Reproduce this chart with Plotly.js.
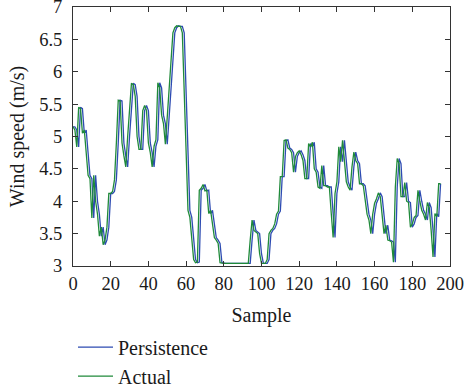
<!DOCTYPE html>
<html>
<head>
<meta charset="utf-8">
<script src="https://cdn.plot.ly/plotly-3.0.1.min.js"></script>
<style>html,body{margin:0;padding:0;background:#fff;}#chart{width:465px;height:386px;}</style>
</head>
<body>
<div id="chart"></div>
<script>
const samples = [];
const actual = [
5.15,5.1,4.84,5.45,5.43,5.05,5.1,4.75,4.4,4.35,
3.74,4.4,4.0,3.8,3.46,3.6,3.33,3.4,3.6,4.12,
4.12,4.15,4.33,4.9,5.56,5.55,4.9,4.7,4.53,5.0,
5.45,5.82,5.8,5.62,5.0,4.8,4.8,5.4,5.48,5.4,
4.9,4.75,4.53,4.85,4.95,5.83,5.75,5.33,5.2,4.88,
5.3,5.7,6.18,6.6,6.68,6.71,6.7,6.7,6.6,5.6,
4.6,3.86,3.75,3.35,3.1,3.05,3.06,4.17,4.2,4.26,
4.16,4.17,3.81,3.86,3.6,3.44,3.4,3.35,3.05,3.04,
3.04,3.04,3.04,3.04,3.04,3.04,3.04,3.04,3.04,3.04,
3.04,3.04,3.04,3.04,3.4,3.71,3.55,3.52,3.5,3.19,
3.04,3.04,3.04,3.1,3.5,3.55,3.58,3.65,3.8,3.85,
4.38,4.38,4.94,4.95,4.82,4.8,4.75,4.45,4.69,4.75,
4.78,4.72,4.63,4.35,4.35,4.89,4.84,4.91,4.5,4.45,
4.22,4.2,4.55,4.24,4.24,4.22,4.22,3.81,3.44,4.12,
4.3,4.84,4.61,4.94,4.6,4.3,4.22,4.17,4.53,4.76,
4.63,4.58,4.27,4.27,4.24,4.0,3.8,3.71,3.5,3.8,
3.97,4.04,4.13,4.07,3.81,3.5,3.63,3.4,3.39,3.37,
3.06,4.22,4.66,4.58,4.07,4.07,4.29,4.0,3.98,3.6,
3.65,3.75,3.78,4.17,4.0,3.86,3.8,3.71,3.98,3.9,
3.55,3.14,3.81,3.76,4.27,4.27
];
const persistence = [
5.15,5.15,5.1,4.84,5.45,5.43,5.05,5.1,4.75,4.4,
4.35,3.74,4.4,4.0,3.8,3.46,3.6,3.33,3.4,3.6,
4.12,4.12,4.15,4.33,4.9,5.56,5.55,4.9,4.7,4.53,
5.0,5.45,5.82,5.8,5.62,5.0,4.8,4.8,5.4,5.48,
5.4,4.9,4.75,4.53,4.85,4.95,5.83,5.75,5.33,5.2,
4.88,5.3,5.7,6.18,6.6,6.68,6.71,6.7,6.7,6.6,
5.6,4.6,3.86,3.75,3.35,3.1,3.05,3.06,4.17,4.2,
4.26,4.16,4.17,3.81,3.86,3.6,3.44,3.4,3.35,3.05,
3.04,3.04,3.04,3.04,3.04,3.04,3.04,3.04,3.04,3.04,
3.04,3.04,3.04,3.04,3.04,3.4,3.71,3.55,3.52,3.5,
3.19,3.04,3.04,3.04,3.1,3.5,3.55,3.58,3.65,3.8,
3.85,4.38,4.38,4.94,4.95,4.82,4.8,4.75,4.45,4.69,
4.75,4.78,4.72,4.63,4.35,4.35,4.89,4.84,4.91,4.5,
4.45,4.22,4.2,4.55,4.24,4.24,4.22,4.22,3.81,3.44,
4.12,4.3,4.84,4.61,4.94,4.6,4.3,4.22,4.17,4.53,
4.76,4.63,4.58,4.27,4.27,4.24,4.0,3.8,3.71,3.5,
3.8,3.97,4.04,4.13,4.07,3.81,3.5,3.63,3.4,3.39,
3.37,3.06,4.22,4.66,4.58,4.07,4.07,4.29,4.0,3.98,
3.6,3.65,3.75,3.78,4.17,4.0,3.86,3.8,3.71,3.98,
3.9,3.55,3.14,3.81,3.76,4.27
];
for (let i = 0; i < actual.length; i++) samples.push(i);

const xTickVals = [0,20,40,60,80,100,120,140,160,180,200];
const yTickVals = [3,3.5,4,4.5,5,5.5,6,6.5,7];
const seriesNames = ['Persistence','Actual'];

const fam = '"Liberation Serif", "Times New Roman", serif';
const tickFont = {family: fam, size: 18.5, color: '#1a1a1a'};
const titleFont = {family: fam, size: 20, color: '#1a1a1a'};

const traces = [
  {x: samples, y: persistence, name: seriesNames[0], type: 'scatter', mode: 'lines',
   line: {color: '#2d4bb2', width: 1.3}, legendgroup: 'a'},
  {x: samples, y: actual, name: seriesNames[1], type: 'scatter', mode: 'lines',
   line: {color: '#1f8a3a', width: 1.3}, legendgroup: 'b'}
];

const axisCommon = {
  showline: true, mirror: 'ticks', linecolor: '#333', linewidth: 1,
  ticks: 'inside', ticklen: 5, tickcolor: '#333', showgrid: false, zeroline: false,
  tickfont: tickFont, ticklabeloverflow: 'allow', automargin: false
};

const layout = {
  width: 465, height: 386,
  margin: {l: 73, r: 15, t: 7, b: 120, autoexpand: false},
  paper_bgcolor: '#fff', plot_bgcolor: '#fff',
  font: titleFont,
  showlegend: true,
  legend: {
    x: 0, y: -0.238, xanchor: 'left', yanchor: 'top',
    font: titleFont, tracegroupgap: 0, itemwidth: 35, bgcolor: 'rgba(0,0,0,0)'
  },
  xaxis: Object.assign({}, axisCommon, {
    range: [0, 200], tickvals: xTickVals, ticktext: xTickVals.map(String),
    ticklabelstandoff: 1,
    title: {text: 'Sample', font: titleFont, standoff: 14}
  }),
  yaxis: Object.assign({}, axisCommon, {
    range: [3, 7], tickvals: yTickVals, ticktext: yTickVals.map(String),
    ticklabelstandoff: 6,
    title: {text: 'Wind speed (m/s)', font: titleFont, standoff: 9}
  })
};

Plotly.newPlot('chart', traces, layout, {displayModeBar: false, staticPlot: true});
</script>
</body>
</html>
